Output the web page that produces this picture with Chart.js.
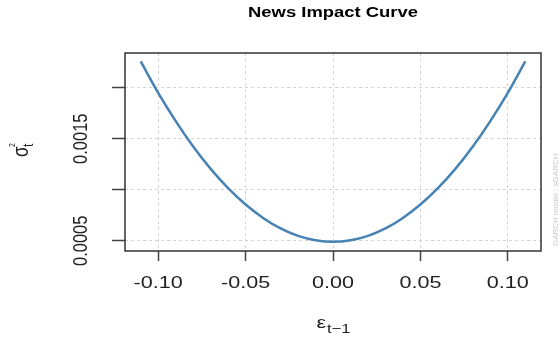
<!DOCTYPE html>
<html>
<head>
<meta charset="utf-8">
<script src="https://cdn.jsdelivr.net/npm/chart.js@4"></script>
<style>
    html, body { margin: 0; padding: 0; background: #ffffff; }
    #wrap { width: 560px; height: 338px; position: relative; }
</style>
</head>
<body>
<div id="wrap"><canvas id="nic"></canvas></div>
<script>
// shocks and conditional variance
let epsilon = [-0.11, -0.10, -0.09, -0.08, -0.07, -0.06, -0.05, -0.04, -0.03, -0.02, -0.01, 0.00,
    0.01, 0.02, 0.03, 0.04, 0.05, 0.06, 0.07, 0.08, 0.09, 0.10, 0.11];
let sigma2 = [0.002257, 0.00195, 0.001673, 0.001424, 0.001205, 0.001016, 0.000855, 0.000724, 0.000621, 0.000548, 0.000505, 0.00049,
    0.000505, 0.000548, 0.000621, 0.000724, 0.000855, 0.001016, 0.001205, 0.001424, 0.001673, 0.00195, 0.002257];

let xTicks = [-0.10, -0.05, 0.00, 0.05, 0.10];
let xTickLabels = ["-0.10", "-0.05", "0.00", "0.05", "0.10"];
let yTicks = [0.0005, 0.0010, 0.0015, 0.0020];
let yLabelled = [0.0005, 0.0015];
let yTickLabels = ["0.0005", "0.0015"];

const font = "'Liberation Sans', Arial, sans-serif";
const stretch = 1.27; // the original picture is stretched sideways

let points = [];
for (let i = 0; i < epsilon.length; i++) {
    points.push({x: epsilon[i], y: sigma2[i]});
}

// draws text widened horizontally like the reference, optionally turned upright
function wideText(ctx, text, x, y, align, upright) {
    ctx.save();
    ctx.translate(x, y);
    ctx.scale(stretch, 1);
    if (upright) ctx.rotate(-Math.PI / 2);
    ctx.textAlign = align;
    ctx.fillText(text, 0, 0);
    ctx.restore();
}

// box, title and the R style axis labels
const decorations = {
    id: 'decorations',
    afterDraw(chart) {
        let ctx = chart.ctx;
        let a = chart.chartArea;
        ctx.save();
        ctx.strokeStyle = "#333333";
        ctx.lineWidth = 1.5;
        ctx.strokeRect(a.left, a.top, a.right - a.left, a.bottom - a.top);

        ctx.fillStyle = "#000000";
        ctx.textBaseline = "middle";
        ctx.font = "bold 14.5px " + font;
        wideText(ctx, "News Impact Curve", (a.left + a.right) / 2, 13, "center");

        // tick labels placed by the scales
        let xs = chart.scales.x;
        let ys = chart.scales.y;
        ctx.fillStyle = "#222222";
        ctx.font = "17px " + font;
        for (let i = 0; i < xTicks.length; i++) {
            wideText(ctx, xTickLabels[i], xs.getPixelForValue(xTicks[i]), 283, "center");
        }
        ctx.font = "16.5px " + font;
        for (let i = 0; i < yLabelled.length; i++) {
            wideText(ctx, yTickLabels[i], 81, ys.getPixelForValue(yLabelled[i]), "center", true);
        }

        // x title: epsilon_{t-1}
        let cx = (a.left + a.right) / 2;
        ctx.textBaseline = "alphabetic";
        ctx.font = "17px " + font;
        let w1 = ctx.measureText("ε").width * stretch;
        ctx.font = "13px " + font;
        let w2 = ctx.measureText("t\u22121").width * stretch;
        let sx = cx - (w1 + w2) / 2;
        ctx.font = "17px " + font;
        wideText(ctx, "ε", sx, 328, "left");
        ctx.font = "13px " + font;
        wideText(ctx, "t\u22121", sx + w1 + 1, 333, "left");

        // y title: sigma_t^2, rotated
        ctx.translate(28, 150);
        ctx.scale(stretch, 1);
        ctx.rotate(-Math.PI / 2);
        ctx.font = "17px " + font;
        ctx.fillText("σ", -7, 0);
        ctx.font = "12px " + font;
        ctx.fillText("t", 3, 4);
        ctx.font = "7px " + font;
        ctx.fillText("2", 3, -10);
        ctx.restore();

        // model note on the right
        ctx.save();
        ctx.translate(556, 246);
        ctx.rotate(-Math.PI / 2);
        ctx.font = "8px " + font;
        ctx.fillStyle = "#c8c8c8";
        ctx.textAlign = "left";
        ctx.textBaseline = "middle";
        ctx.fillText("GARCH model : sGARCH", 0, 0);
        ctx.restore();
    }
};

new Chart(document.getElementById('nic').getContext('2d'), {
    type: 'line',
    data: {
        datasets: [{
            data: points,
            borderColor: "#4682B4",
            borderWidth: 2.5,
            pointRadius: 0,
            fill: false,
            cubicInterpolationMode: 'monotone'
        }]
    },
    options: {
        responsive: true,
        maintainAspectRatio: false,
        animation: false,
        layout: {
            padding: {top: 53, right: 19, left: 0, bottom: 0}
        },
        scales: {
            x: {
                type: 'linear',
                min: -0.119,
                max: 0.119,
                afterBuildTicks: function (scale) {
                    scale.ticks = xTicks.map(v => ({value: v}));
                },
                afterFit: function (scale) {
                    scale.height = 87;
                },
                grid: {
                    color: "#d3d3d3",
                    lineWidth: 1,
                    drawTicks: true,
                    tickLength: 10,
                    tickColor: "#444444",
                    tickBorderDash: [1, 0],
                    tickWidth: 1.5
                },
                border: {display: false, dash: [3, 3]},
                ticks: {display: false}
            },
            y: {
                type: 'linear',
                min: 0.0004,
                max: 0.00234,
                afterBuildTicks: function (scale) {
                    scale.ticks = yTicks.map(v => ({value: v}));
                },
                afterFit: function (scale) {
                    scale.width = 125;
                },
                grid: {
                    color: "#d3d3d3",
                    lineWidth: 1,
                    drawTicks: true,
                    tickLength: 13,
                    tickColor: "#444444",
                    tickBorderDash: [1, 0],
                    tickWidth: 1.5
                },
                border: {display: false, dash: [3, 3]},
                ticks: {display: false}
            }
        },
        plugins: {
            legend: {display: false},
            tooltip: {enabled: false}
        }
    },
    plugins: [decorations]
});
</script>
</body>
</html>
